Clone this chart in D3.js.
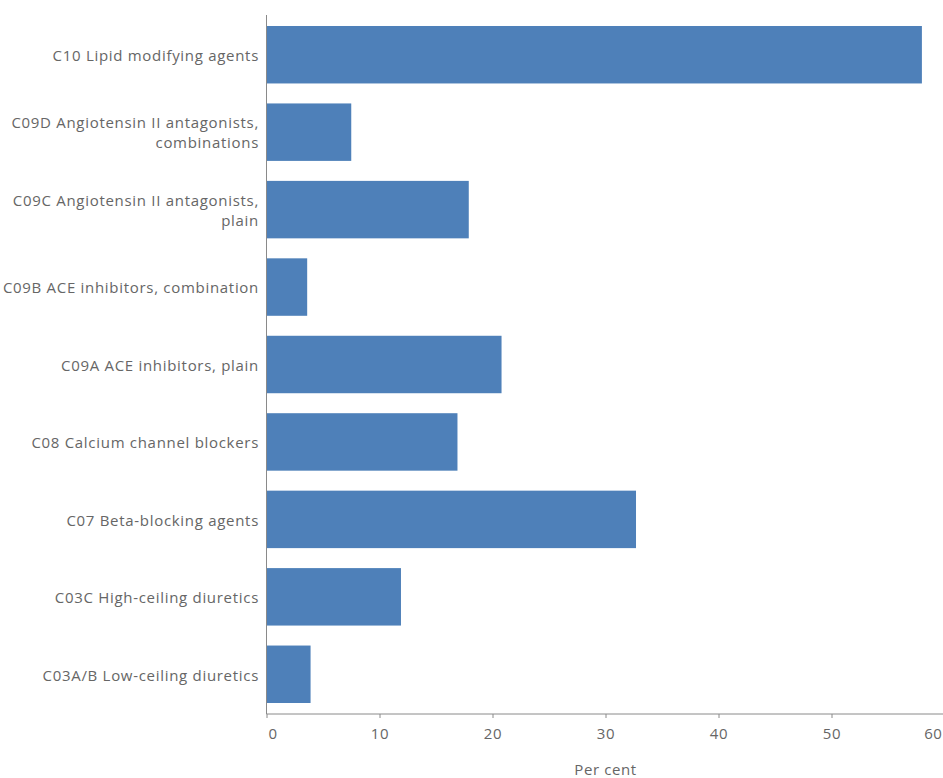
<!DOCTYPE html>
<html>
<head>
<meta charset="utf-8">
<script src="https://cdn.jsdelivr.net/npm/d3@7"></script>
<style>
  html, body { margin: 0; padding: 0; background: #fff; }
  svg { display: block; }
  text { font-family: "Open Sans", "Noto Sans", sans-serif; }
</style>
</head>
<body>
<svg id="chart" width="943" height="778"></svg>
<script>
const categories = [
  ["C10 Lipid modifying agents"],
  ["C09D Angiotensin II antagonists,", "combinations"],
  ["C09C Angiotensin II antagonists,", "plain"],
  ["C09B ACE inhibitors, combination"],
  ["C09A ACE inhibitors, plain"],
  ["C08 Calcium channel blockers"],
  ["C07 Beta-blocking agents"],
  ["C03C High-ceiling diuretics"],
  ["C03A/B Low-ceiling diuretics"]
];
const values = [58.0, 7.5, 17.9, 3.6, 20.8, 16.9, 32.7, 11.9, 3.9];
const xTicks = [0, 10, 20, 30, 40, 50, 60];
const xTitle = "Per cent";

const svg = d3.select("#chart");
const mLeft = 266.5, mRight = 944.5, mTop = 15, mBottom = 714;
const keys = categories.map((c, i) => i);

const x = d3.scaleLinear().domain([0, 60]).range([mLeft, mRight]);
const y = d3.scaleBand().domain(keys).range([mTop, mBottom]).paddingInner(0.258).paddingOuter(0.142);

// bars
svg.append("g").selectAll("rect").data(values).join("rect")
  .attr("x", x(0))
  .attr("y", (d, i) => y(i))
  .attr("width", d => x(d) - x(0))
  .attr("height", y.bandwidth())
  .attr("fill", "#4e80b9");

// x axis
const xAxis = svg.append("g").attr("transform", `translate(0,${mBottom})`)
  .call(d3.axisBottom(x).tickValues(xTicks).tickSize(4).tickPadding(10).tickFormat(d3.format("d")));
xAxis.select(".domain").attr("stroke", "#8a8a8a").attr("d", `M${mLeft},0H${943}`);
xAxis.selectAll(".tick line").attr("stroke", "#8a8a8a");
xAxis.selectAll(".tick text").attr("fill", "#666").style("font-size", "15px")
  .style("letter-spacing", "0.6px").attr("font-family", null);
xAxis.selectAll(".tick").filter(d => d === 60).select("text")
  .attr("text-anchor", "end").attr("x", 942 - x(60));
xAxis.selectAll(".tick").filter(d => d === 0).select("text").attr("x", 6);

// y axis line
svg.append("line").attr("x1", mLeft).attr("x2", mLeft).attr("y1", mTop).attr("y2", mBottom)
  .attr("stroke", "#8a8a8a");

// y labels
const lab = svg.append("g").selectAll("text").data(categories).join("text")
  .attr("text-anchor", "end")
  .attr("fill", "#666")
  .style("font-size", "15px")
  .style("letter-spacing", "0.7px")
  .attr("transform", (d, i) => `translate(259,${y(i) + y.bandwidth() / 2 + 1})`);
lab.each(function(lines) {
  const t = d3.select(this);
  const lh = 20;
  const off = -(lines.length - 1) * lh / 2;
  lines.forEach((l, j) => {
    t.append("tspan").attr("x", 0).attr("y", off + j * lh).attr("dy", "0.35em").text(l);
  });
});

// x title
svg.append("text").attr("x", (mLeft + mRight) / 2).attr("y", 775)
  .attr("text-anchor", "middle").attr("fill", "#666").style("font-size", "15px")
  .style("letter-spacing", "0.6px")
  .text(xTitle);
</script>
</body>
</html>
